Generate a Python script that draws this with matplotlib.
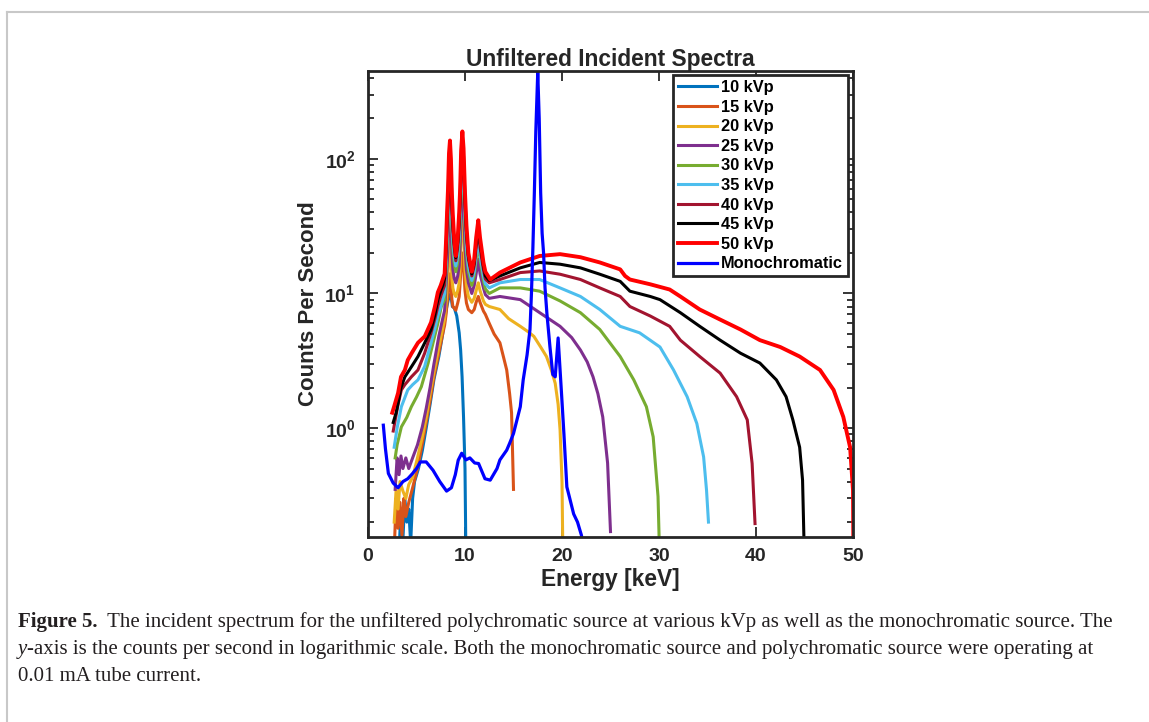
import numpy as np
import matplotlib
matplotlib.use("Agg")
import matplotlib.pyplot as plt
from matplotlib.lines import Line2D
from matplotlib.ticker import LogLocator, NullFormatter

# energies (keV) and counts per second
e_10 = [3.2, 3.4, 3.6, 3.8, 4.0, 4.2, 4.4, 4.6, 4.8, 5.2, 5.6, 6.0, 6.4, 6.8, 7.3, 7.7, 7.9, 8.1, 8.25, 8.4,
        8.55, 8.7, 8.9, 9.15, 9.4, 9.55, 9.7, 9.85, 10.0, 10.1]
c_10 = [0.12, 0.25, 0.15, 0.3, 0.2, 0.25, 0.14, 0.3, 0.4, 0.5, 0.68, 1.0, 1.5, 2.3, 3.4, 5.0, 6.5, 7.8, 8.8, 9.8,
        9.6, 8.0, 7.8, 6.8, 5.1, 3.8, 2.4, 1.2, 0.5, 0.1]

e_15 = [2.7, 2.9, 3.1, 3.3, 3.5, 3.7, 3.9, 4.2, 4.6, 5.1, 5.6, 6.0, 6.4, 6.8, 7.3, 7.7,
        7.9, 8.05, 8.15, 8.25, 8.35, 8.45, 8.55, 8.65, 8.75, 8.88, 9.05, 9.25, 9.4, 9.5, 9.6, 9.73, 9.85,
        10.0, 10.15, 10.35, 10.7, 10.95, 11.15, 11.37, 11.55, 11.9, 12.1,
        12.5, 13.0, 13.6, 14.0, 14.3, 14.6, 14.8, 15.0]
c_15 = [0.12, 0.3, 0.18, 0.28, 0.16, 0.3, 0.22, 0.28, 0.36, 0.5, 0.77, 1.1, 1.6, 2.4, 3.6, 5.0,
        5.8, 7.0, 8.5, 9.5, 12.5, 14, 11.5, 9, 8, 7.8, 7.5, 8.5, 9.5, 12, 16, 20, 16,
        10.5, 8.5, 7.6, 7.2, 7.6, 8.6, 9.5, 8.6, 7.4, 7.0,
        6.0, 5.0, 4.3, 3.3, 2.7, 1.8, 1.3, 0.35]

e_20 = [2.7, 2.9, 3.1, 3.3, 3.6, 3.9, 4.2, 4.6, 5.1, 5.6, 6.0, 6.4, 6.8, 7.3, 7.7,
        7.9, 8.05, 8.15, 8.25, 8.35, 8.45, 8.55, 8.65, 8.75, 8.88, 9.05, 9.25, 9.4, 9.5, 9.6, 9.73, 9.85,
        10.0, 10.15, 10.35, 10.7, 10.95, 11.15, 11.37, 11.55, 11.9, 12.1,
        12.5, 13.6, 14.5, 15.7, 16.5, 17.1, 17.8, 18.4, 18.9, 19.3, 19.6, 19.8, 20.0, 20.1]
c_20 = [0.2, 0.35, 0.25, 0.4, 0.34, 0.3, 0.38, 0.43, 0.6, 0.86, 1.2, 1.8, 2.6, 4.0, 5.5,
        6.5, 8.5, 11, 14, 21, 25, 19, 13, 11, 10, 9.5, 10.5, 12, 16, 28, 38, 29,
        15, 11.5, 9.5, 8.6, 9.2, 10.5, 12, 10.5, 8.8, 8.3,
        8.0, 7.6, 6.5, 5.7, 5.2, 4.8, 4.0, 3.4, 2.7, 2.15, 1.5, 0.97, 0.4, 0.1]

e_25 = [2.8, 3.0, 3.2, 3.4, 3.6, 3.9, 4.2, 4.6, 5.1, 5.6, 6.0, 6.4, 6.8, 7.3, 7.7,
        7.9, 8.05, 8.15, 8.25, 8.35, 8.45, 8.55, 8.65, 8.75, 8.88, 9.05, 9.25, 9.4, 9.5, 9.6, 9.73, 9.85,
        10.0, 10.15, 10.35, 10.7, 10.95, 11.15, 11.37, 11.55, 11.9, 12.1,
        12.5, 13.6, 15.7, 17.7, 19.8, 21.0, 21.9, 22.6, 23.2, 23.7, 24.2, 24.7, 25.0]
c_25 = [0.35, 0.6, 0.45, 0.62, 0.5, 0.6, 0.5, 0.6, 0.75, 1.02, 1.4, 2.0, 3.0, 4.8, 6.5,
        7.5, 11.5, 16, 22, 38, 45, 34, 20, 15, 13, 12, 13.5, 16, 23, 44, 60, 45,
        22, 15, 12, 10, 11.5, 14, 18, 14, 11, 9.8,
        9.2, 9.5, 9.0, 7.2, 5.7, 4.7, 3.8, 3.1, 2.4, 1.8, 1.21, 0.55, 0.17]

e_30 = [2.8, 3.0, 3.44, 4.0, 4.47, 5.0, 5.5, 6.2, 6.87, 7.2, 7.56,
        7.9, 8.05, 8.15, 8.25, 8.35, 8.45, 8.55, 8.65, 8.75, 8.88, 9.05, 9.25, 9.4, 9.5, 9.6, 9.73, 9.85,
        10.0, 10.15, 10.35, 10.7, 10.95, 11.15, 11.37, 11.55, 11.9, 12.1,
        12.5, 13.6, 15.7, 17.7, 19.8, 21.9, 23.9, 26.0, 27.4, 28.7, 29.4, 29.9, 30.05]
c_30 = [0.6, 0.75, 1.02, 1.2, 1.44, 1.7, 2.03, 3.04, 4.8, 6.0, 8.0,
        9, 15, 23, 33, 58, 70, 52, 30, 21, 17, 14.5, 17, 23, 34, 66, 90, 68,
        32, 20, 14.5, 11.5, 13.5, 18, 24, 18, 12.5, 10.8,
        10, 11, 11, 10.4, 8.8, 7.2, 5.4, 3.4, 2.28, 1.44, 0.86, 0.31, 0.12]

e_35 = [2.7, 3.0, 3.44, 4.1, 4.6, 5.15, 5.84, 6.5, 6.9, 7.2, 7.5, 7.7,
        7.9, 8.05, 8.15, 8.25, 8.35, 8.45, 8.55, 8.65, 8.75, 8.88, 9.05, 9.25, 9.4, 9.5, 9.6, 9.73, 9.85,
        10.0, 10.15, 10.35, 10.7, 10.95, 11.15, 11.37, 11.55, 11.9, 12.1,
        12.5, 13.6, 15.7, 17.7, 19.8, 21.9, 23.9, 26.0, 28.0, 30.1, 31.5, 32.9, 33.9, 34.6, 34.9, 35.1]
c_35 = [0.72, 1.0, 1.44, 1.92, 2.1, 2.28, 2.87, 4.3, 5.5, 6.8, 8.0, 9.0,
        10, 17, 26, 37, 66, 80, 60, 34, 24, 19, 16, 19, 26, 38, 73, 100, 75,
        36, 22, 16, 12.5, 14.5, 19.5, 26, 19.5, 13.5, 11.8,
        11, 12, 12.7, 12.7, 11, 9.5, 7.6, 5.7, 5.1, 4.0, 2.7, 1.71, 1.08, 0.61, 0.345, 0.2]

e_40 = [2.6, 2.75, 3.1, 3.44, 3.8, 4.47, 5.15, 5.84, 6.5, 6.9, 7.2, 7.5, 7.7,
        7.9, 8.05, 8.15, 8.25, 8.35, 8.45, 8.55, 8.65, 8.75, 8.88, 9.05, 9.25, 9.4, 9.5, 9.6, 9.73, 9.85,
        10.0, 10.15, 10.35, 10.7, 10.95, 11.15, 11.37, 11.55, 11.9, 12.1,
        12.5, 13.6, 15.7, 17.7, 19.8, 21.9, 23.9, 26.0, 27.0, 29.1, 31.1, 32.2, 34.2, 36.3, 38.0, 39.1,
        39.6, 39.9]
c_40 = [0.95, 1.09, 1.5, 1.92, 2.1, 2.4, 2.7, 3.6, 5.1, 6.5, 8.0, 9.5, 10.5,
        11.5, 20, 31, 45, 82, 100, 74, 41, 29, 22, 17.5, 22, 31, 46, 88, 120, 90,
        43, 26, 18, 13.5, 16, 22, 30, 22, 15, 12.8,
        12, 12.7, 14.3, 14.7, 13.9, 12.7, 11, 9.5, 8.0, 6.8, 5.7, 4.5, 3.4, 2.56, 1.71, 1.15,
        0.545, 0.195]

e_45 = [2.6, 2.9, 3.1, 3.4, 3.8, 4.5, 5.15, 5.85, 6.5, 6.9, 7.2, 7.5, 7.7,
        7.9, 8.05, 8.15, 8.25, 8.35, 8.45, 8.55, 8.65, 8.75, 8.88, 9.05, 9.25, 9.4, 9.5, 9.6, 9.73, 9.85,
        10.0, 10.15, 10.35, 10.7, 10.95, 11.15, 11.37, 11.55, 11.9, 12.1,
        12.5, 13.6, 15.7, 17.7, 19.8, 21.9, 23.9, 26.0, 27.0, 29.1, 30.1, 32.2, 34.2, 36.3, 38.4, 40.4,
        42.1, 43.1, 43.8, 44.5, 44.8, 45.0]
c_45 = [1.1, 1.3, 1.53, 2.0, 2.4, 2.87, 3.4, 4.3, 5.4, 7.0, 9.0, 10.5, 11.5,
        13, 22, 35, 52, 95, 117, 86, 47, 33, 24, 18.5, 24, 35, 52, 100, 138, 104,
        49, 29, 19, 14, 17, 24, 32, 24, 16, 13.5,
        12.5, 13.5, 15.5, 17, 16.5, 15.5, 13.9, 12.3, 10.4, 9.5, 9.0, 7.2, 5.7, 4.5, 3.6, 3.04,
        2.28, 1.71, 1.15, 0.72, 0.41, 0.1]

e_50 = [2.5, 2.7, 3.1, 3.4, 3.8, 4.1, 4.5, 5.15, 5.85, 6.5, 6.9, 7.2, 7.5, 7.7,
        7.9, 8.05, 8.15, 8.25, 8.35, 8.45, 8.55, 8.65, 8.75, 8.88, 9.05, 9.25, 9.4, 9.5, 9.6, 9.73, 9.85,
        10.0, 10.15, 10.35, 10.7, 10.95, 11.15, 11.37, 11.55, 11.9, 12.1,
        12.6, 13.6, 15.7, 17.7, 19.8, 21.9, 23.9, 26.0, 26.5, 27.0, 29.1, 31.1, 32.2, 34.2, 36.3, 38.4,
        40.4, 42.5, 44.5, 46.6, 48.0, 49.0, 49.7, 50.0, 50.05]
c_50 = [1.3, 1.45, 1.82, 2.4, 2.7, 3.2, 3.6, 4.3, 4.8, 6.1, 8.0, 10.2, 11.5, 12.7,
        14, 25, 40, 60, 110, 137, 100, 55, 38, 26, 19, 26, 40, 60, 115, 160, 120,
        56, 32, 20, 14.5, 18, 26, 35, 26, 17, 14.5,
        12.7, 14.3, 17, 19, 19.6, 18.6, 17, 15.1, 13.5, 12.7, 11.7, 10.7, 9.5, 7.6, 6.4, 5.4,
        4.5, 4.0, 3.4, 2.7, 1.92, 1.21, 0.72, 0.345, 0.1]

e_mono = [1.58, 1.8, 2.1, 2.6, 3.1, 3.6, 4.1, 4.6, 5.0, 5.4, 6.0, 6.7, 7.4, 8.1, 8.6, 9.0, 9.3, 9.66, 10.1,
          10.5, 11.0, 11.4, 12.06, 12.6, 13.3, 13.6, 14.3, 14.6, 15.0, 15.7, 16.0, 16.4, 16.7, 16.85, 17.0,
          17.15, 17.3, 17.5, 17.65, 17.8, 17.95, 18.1, 18.25, 18.45, 18.76, 19.05, 19.3, 19.6, 19.97, 20.2,
          20.5, 20.8, 21.2, 21.6, 22.0, 22.3]
c_mono = [1.05, 0.7, 0.46, 0.39, 0.36, 0.40, 0.42, 0.46, 0.5, 0.56, 0.56, 0.486, 0.4, 0.34, 0.36, 0.45, 0.577,
          0.65, 0.58, 0.6, 0.55, 0.545, 0.42, 0.41, 0.5, 0.58, 0.685, 0.77, 0.91, 1.44, 2.28, 3.5, 5.4, 10,
          22, 56, 160, 440, 200, 56, 28, 20, 11, 7, 4.0, 2.5, 2.4, 4.67, 1.71, 0.9,
          0.365, 0.3, 0.23, 0.2, 0.16, 0.12]

labels = ['10 kVp', '15 kVp', '20 kVp', '25 kVp', '30 kVp', '35 kVp', '40 kVp', '45 kVp', '50 kVp',
          'Monochromatic']
colors = ['#0072BD', '#D95319', '#EDB120', '#7E2F8E', '#77AC30', '#4DBEEE', '#A2142F', 'black', 'red',
          '#0000FF']
widths = [2.2, 2.2, 2.2, 2.2, 2.2, 2.2, 2.2, 2.2, 2.8, 2.3]
energies = [e_10, e_15, e_20, e_25, e_30, e_35, e_40, e_45, e_50, e_mono]
counts = [c_10, c_15, c_20, c_25, c_30, c_35, c_40, c_45, c_50, c_mono]

plt.rcParams['font.family'] = 'Liberation Sans'
plt.rcParams['font.weight'] = 'bold'
plt.rcParams['mathtext.fontset'] = 'custom'
plt.rcParams['mathtext.rm'] = 'Liberation Sans:bold'
plt.rcParams['mathtext.it'] = 'Liberation Sans:bold'
plt.rcParams['mathtext.bf'] = 'Liberation Sans:bold'

W, H = 1149, 722
fig = plt.figure(figsize=(W / 100, H / 100), dpi=100)
ax = fig.add_axes([368 / W, 1 - 537 / H, 485 / W, 466 / H])

for e, c, col, lw, lab in zip(energies, counts, colors, widths, labels):
    ax.plot(e, c, color=col, lw=lw, label=lab)

ax.set_yscale('log')
ax.set_xlim(0, 50)
ax.set_ylim(0.155, 450)
ax.set_xticks([0, 10, 20, 30, 40, 50])
ax.yaxis.set_major_locator(LogLocator(base=10, numticks=10))
ax.yaxis.set_minor_locator(LogLocator(base=10, subs=np.arange(2, 10), numticks=20))
ax.yaxis.set_minor_formatter(NullFormatter())
ax.tick_params(which='both', direction='in', top=True, right=True, width=1.3, colors='#262626')
ax.tick_params(which='major', length=7, labelsize=14, labelcolor='#262626')
ax.tick_params(which='minor', length=4)
ax.tick_params(axis='x', pad=8)
ax.tick_params(axis='y', pad=9)
for s in ax.spines.values():
    s.set_linewidth(2)
    s.set_color('#262626')

ax.set_title('Unfiltered Incident Spectra', fontsize=16.4, fontweight='bold', pad=3, color='#262626')
ax.set_xlabel('Energy [keV]', fontsize=16.4, fontweight='bold', labelpad=2, color='#262626')
ax.set_ylabel('Counts Per Second', fontsize=16, fontweight='bold', labelpad=4, color='#262626')

leg = ax.legend(loc='upper right', bbox_to_anchor=(0.99, 0.991), fontsize=11.8, fancybox=False,
                edgecolor='#262626', framealpha=1, handlelength=2.4, handletextpad=0.25,
                labelspacing=0.28, borderpad=0.3, borderaxespad=0)
leg.get_frame().set_linewidth(2)

# page frame
fig.add_artist(Line2D([7 / W, 7 / W], [0, 1 - 12 / H], transform=fig.transFigure, color='#c8c8c8', lw=1.5))
fig.add_artist(Line2D([7 / W, 1], [1 - 12 / H, 1 - 12 / H], transform=fig.transFigure, color='#c8c8c8', lw=1.5))

# caption
cap_font = dict(family='Liberation Serif', fontsize=15, color='#231f20')
r = fig.canvas.get_renderer()
x0 = 18 / W
t = fig.text(x0, 1 - 627 / H, 'Figure 5.', fontweight='bold', va='baseline', **cap_font)
bb = t.get_window_extent(r)
fig.text(bb.x1 / W, 1 - 627 / H,
         '  The incident spectrum for the unfiltered polychromatic source at various kVp as well as the '
         'monochromatic source. The', fontweight='normal', va='baseline', **cap_font)
t = fig.text(x0, 1 - 654 / H, 'y', fontweight='normal', style='italic', va='baseline', **cap_font)
bb = t.get_window_extent(r)
fig.text(bb.x1 / W, 1 - 654 / H,
         '-axis is the counts per second in logarithmic scale. Both the monochromatic source and '
         'polychromatic source were operating at', fontweight='normal', va='baseline', **cap_font)
fig.text(x0, 1 - 681 / H, '0.01 mA tube current.', fontweight='normal', va='baseline', **cap_font)

fig.savefig('out.png', dpi=100)
